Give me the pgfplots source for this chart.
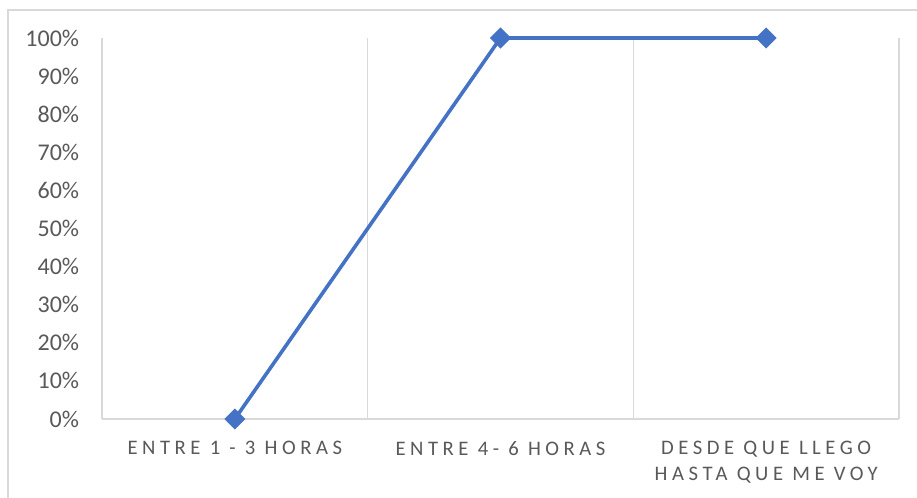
\documentclass[border=0pt]{standalone}
\usepackage{fontspec}
\setmainfont{Carlito}
\newfontfamily\spaced[LetterSpace=22]{Carlito}
\usepackage{pgfplots}
\pgfplotsset{compat=1.18}
\definecolor{txt}{HTML}{595959}
\definecolor{grd}{HTML}{D9D9D9}
\definecolor{ser}{HTML}{4472C4}
\begin{document}
\begin{tikzpicture}
\useasboundingbox (0pt,0pt) rectangle (687.75pt,373.5pt);
\draw[grd, line width=1.2pt] (6pt,-5pt) -- (6pt,366pt) -- (700pt,366pt);
\begin{axis}[
  at={(76.5pt,59.25pt)}, anchor=south west, scale only axis,
  width=597.75pt, height=285.75pt,
  xmin=-0.5, xmax=2.5, ymin=0, ymax=100,
  clip=false,
  axis line style={draw=none},
  major tick length=0pt,
  xtick={0,1,2},
  xticklabels={ENTRE 1 - 3 HORAS, ENTRE 4- 6 HORAS, {DESDE QUE LLEGO\\HASTA QUE ME VOY}},
  xticklabel style={font=\spaced\fontsize{15.5}{19.5}\selectfont, text=txt, anchor=north, inner sep=0pt, align=center, yshift=-16.5pt},
  ytick={0,10,20,30,40,50,60,70,80,90,100},
  yticklabels={0\%,10\%,20\%,30\%,40\%,50\%,60\%,70\%,80\%,90\%,100\%},
  yticklabel style={font=\fontsize{18}{20}\selectfont, text=txt, anchor=east, inner sep=0pt, xshift=-17pt},
  extra x ticks={-0.5,0.5,1.5,2.5},
  extra x tick labels={},
  extra x tick style={grid=major},
  major grid style={draw=grd, line width=1.1pt},
]
\draw[grd, line width=1.2pt] (axis cs:-0.5,0) -- (axis cs:2.5,0);
\addplot[ser, line width=2.7pt, mark=square*, mark size=4.25pt, mark options={solid, fill=ser, rotate=45}]
  coordinates {(0,0) (1,100) (2,100)};
\end{axis}
\end{tikzpicture}
\end{document}
